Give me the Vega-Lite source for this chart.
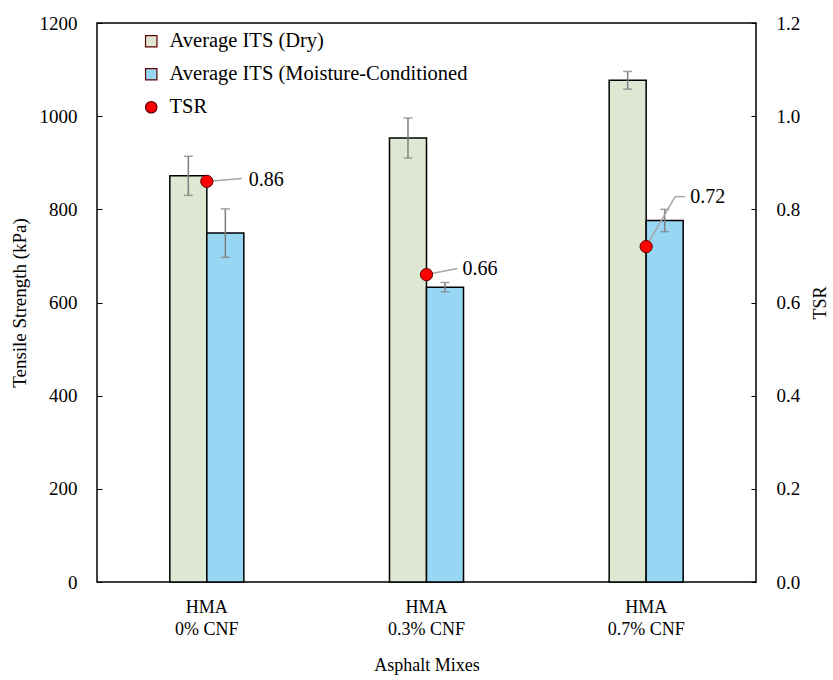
{
  "$schema": "https://vega.github.io/schema/vega-lite/v6.json",
  "width": 659,
  "height": 559,
  "autosize": {"type": "none"},
  "padding": {"left": 97, "top": 23, "right": 77, "bottom": 98},
  "background": "white",
  "config": {
    "font": "Liberation Serif",
    "view": {"stroke": "#000000", "strokeWidth": 1.5},
    "axis": {
      "labelFont": "Liberation Serif",
      "labelFontSize": 19,
      "labelColor": "#000000",
      "titleFont": "Liberation Serif",
      "titleFontSize": 18,
      "titleFontWeight": "normal",
      "titleColor": "#000000",
      "domainColor": "#000000",
      "tickColor": "#000000",
      "grid": false
    },
    "legend": {
      "labelFont": "Liberation Serif",
      "labelFontSize": 20.5,
      "labelColor": "#000000",
      "labelLimit": 0
    },
    "text": {"font": "Liberation Serif"}
  },
  "datasets": {
    "its": [
      {"Mix": "HMA|0% CNF", "Series": "Average ITS (Dry)", "ITS": 872, "Low": 830, "High": 914},
      {"Mix": "HMA|0% CNF", "Series": "Average ITS (Moisture-Conditioned", "ITS": 749, "Low": 697, "High": 801},
      {"Mix": "HMA|0.3% CNF", "Series": "Average ITS (Dry)", "ITS": 953, "Low": 910, "High": 996},
      {"Mix": "HMA|0.3% CNF", "Series": "Average ITS (Moisture-Conditioned", "ITS": 633, "Low": 623, "High": 643},
      {"Mix": "HMA|0.7% CNF", "Series": "Average ITS (Dry)", "ITS": 1077, "Low": 1058, "High": 1096},
      {"Mix": "HMA|0.7% CNF", "Series": "Average ITS (Moisture-Conditioned", "ITS": 776, "Low": 752, "High": 800}
    ],
    "tsr": [
      {"Mix": "HMA|0% CNF", "Series": "TSR", "TSR": 0.86},
      {"Mix": "HMA|0.3% CNF", "Series": "TSR", "TSR": 0.66},
      {"Mix": "HMA|0.7% CNF", "Series": "TSR", "TSR": 0.72}
    ]
  },
  "encoding": {
    "x": {
      "field": "Mix",
      "type": "nominal",
      "sort": null,
      "scale": {"paddingInner": 0.663, "paddingOuter": 0.3315},
      "axis": {
        "title": "Asphalt Mixes",
        "labelAngle": 0,
        "labelFontSize": 18,
        "labelExpr": "split(datum.label, '|')",
        "labelLineHeight": 22,
        "labelPadding": 16,
        "ticks": false,
        "domain": false,
        "titlePadding": 18
      }
    }
  },
  "layer": [
    {
      "data": {"name": "its"},
      "layer": [
        {
          "mark": {"type": "bar", "stroke": "#000000", "strokeWidth": 1.5},
          "encoding": {
            "xOffset": {
              "field": "Series",
              "type": "nominal",
              "scale": {"paddingInner": 0, "paddingOuter": 0}
            },
            "y": {
              "field": "ITS",
              "type": "quantitative",
              "scale": {"domain": [0, 1200]},
              "axis": {
                "title": "Tensile Strength (kPa)",
                "titleFontSize": 19,
                "values": [0, 200, 400, 600, 800, 1000, 1200],
                "format": "d",
                "tickSize": -5,
                "labelPadding": 25,
                "domain": false,
                "titlePadding": 10
              }
            },
            "color": {
              "field": "Series",
              "type": "nominal",
              "scale": {
                "domain": ["Average ITS (Dry)", "Average ITS (Moisture-Conditioned", "TSR"],
                "range": ["#dde7d1", "#98d7f3", "#ff0000"]
              },
              "legend": {
                "title": null,
                "orient": "none",
                "legendX": 44,
                "legendY": 8,
                "rowPadding": 12,
                "symbolSize": 130,
                "symbolStrokeColor": "#000000",
                "symbolStrokeWidth": 1.2,
                "labelOffset": 8
              }
            }
          }
        },
        {
          "mark": {"type": "rule", "color": "#7f7f7f", "strokeWidth": 1.5},
          "encoding": {
            "xOffset": {"field": "Series", "type": "nominal"},
            "y": {"field": "Low", "type": "quantitative"},
            "y2": {"field": "High"}
          }
        },
        {
          "mark": {"type": "tick", "color": "#7f7f7f", "thickness": 1.5, "size": 9},
          "encoding": {
            "xOffset": {"field": "Series", "type": "nominal"},
            "y": {"field": "Low", "type": "quantitative"}
          }
        },
        {
          "mark": {"type": "tick", "color": "#7f7f7f", "thickness": 1.5, "size": 9},
          "encoding": {
            "xOffset": {"field": "Series", "type": "nominal"},
            "y": {"field": "High", "type": "quantitative"}
          }
        }
      ]
    },
    {
      "data": {"name": "tsr"},
      "encoding": {
        "y": {
          "field": "TSR",
          "type": "quantitative",
          "scale": {"domain": [0, 1.2]},
          "axis": {
            "title": "TSR",
            "orient": "right",
            "format": ".1f",
            "values": [0, 0.2, 0.4, 0.6, 0.8, 1.0, 1.2],
            "tickSize": -5,
            "labelPadding": 25,
            "domain": false,
            "titleAngle": -90,
            "titlePadding": 30
          }
        }
      },
      "layer": [
        {
          "transform": [{"filter": "datum.TSR == 0.86"}],
          "mark": {"type": "rule", "color": "#a6a6a6", "strokeWidth": 1.5, "x2Offset": 35, "y2Offset": -3},
          "encoding": {"x2": {"field": "Mix"}, "y2": {"field": "TSR"}}
        },
        {
          "transform": [{"filter": "datum.TSR == 0.66"}],
          "mark": {"type": "rule", "color": "#a6a6a6", "strokeWidth": 1.5, "x2Offset": 31, "y2Offset": -6},
          "encoding": {"x2": {"field": "Mix"}, "y2": {"field": "TSR"}}
        },
        {
          "transform": [{"filter": "datum.TSR == 0.72"}],
          "mark": {"type": "rule", "color": "#a6a6a6", "strokeWidth": 1.5, "x2Offset": 29, "y2Offset": -50},
          "encoding": {"x2": {"field": "Mix"}, "y2": {"field": "TSR"}}
        },
        {
          "transform": [{"filter": "datum.TSR == 0.72"}],
          "mark": {"type": "rule", "color": "#a6a6a6", "strokeWidth": 1.5, "xOffset": 29, "x2Offset": 39, "yOffset": -50, "y2Offset": -50},
          "encoding": {"x2": {"field": "Mix"}, "y2": {"field": "TSR"}}
        },
        {
          "mark": {"type": "point", "filled": true, "size": 150, "stroke": "#600000", "strokeWidth": 1, "opacity": 1},
          "encoding": {
            "color": {"field": "Series", "type": "nominal"},
            "shape": {
              "field": "Series",
              "type": "nominal",
              "scale": {
                "domain": ["Average ITS (Dry)", "Average ITS (Moisture-Conditioned", "TSR"],
                "range": ["square", "square", "circle"]
              }
            }
          }
        },
        {
          "transform": [{"filter": "datum.TSR == 0.86"}],
          "mark": {"type": "text", "align": "left", "baseline": "middle", "dx": 42, "dy": -1, "fontSize": 20, "color": "#000000"},
          "encoding": {"text": {"field": "TSR", "type": "quantitative", "format": ".2f"}}
        },
        {
          "transform": [{"filter": "datum.TSR == 0.66"}],
          "mark": {"type": "text", "align": "left", "baseline": "middle", "dx": 36, "dy": -6, "fontSize": 20, "color": "#000000"},
          "encoding": {"text": {"field": "TSR", "type": "quantitative", "format": ".2f"}}
        },
        {
          "transform": [{"filter": "datum.TSR == 0.72"}],
          "mark": {"type": "text", "align": "left", "baseline": "middle", "dx": 44, "dy": -50, "fontSize": 20, "color": "#000000"},
          "encoding": {"text": {"field": "TSR", "type": "quantitative", "format": ".2f"}}
        }
      ]
    }
  ],
  "resolve": {"scale": {"y": "independent"}}
}
